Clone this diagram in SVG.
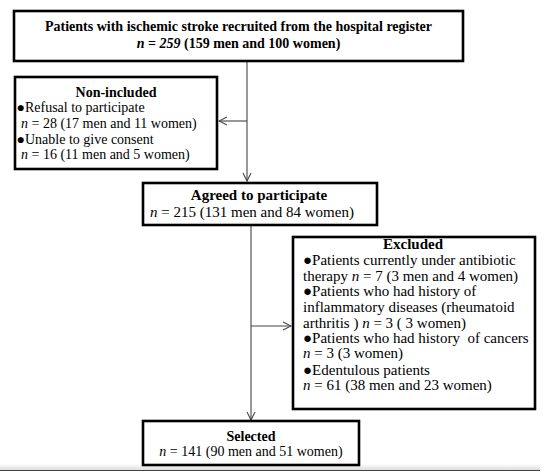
<svg xmlns="http://www.w3.org/2000/svg" width="550" height="476" viewBox="0 0 550 476">
<defs>
<style>
.box{fill:#fff;stroke:#000;stroke-width:2.6}
.t{font-family:"Liberation Serif","Times New Roman",serif;font-size:14px;fill:#000}
.l{font-size:15px}
.b{font-weight:bold}
.c{text-anchor:middle}
.conn{stroke:#444;stroke-width:1.1;fill:none}
</style>
<marker id="ah" markerWidth="10" markerHeight="10" refX="9" refY="5" orient="auto" markerUnits="userSpaceOnUse">
<path d="M1,1 L9,5 L1,9" fill="none" stroke="#444" stroke-width="1.1"/>
</marker>
<linearGradient id="sh" x1="0" y1="0" x2="0" y2="1">
<stop offset="0" stop-color="#fff"/>
<stop offset="1" stop-color="#ddd"/>
</linearGradient>
</defs>
<rect width="550" height="476" fill="#fff"/>
<rect x="0" y="464" width="540" height="6" fill="url(#sh)"/>
<line x1="0" y1="470.5" x2="540" y2="470.5" stroke="#444" stroke-width="1.2"/>
<g id="connectors">
<line class="conn" x1="247" y1="61" x2="247" y2="181" marker-end="url(#ah)"/>
<line class="conn" x1="247" y1="121" x2="219" y2="121" marker-end="url(#ah)"/>
<line class="conn" x1="251" y1="225" x2="251" y2="420" marker-end="url(#ah)"/>
<line class="conn" x1="251" y1="326" x2="291" y2="326" marker-end="url(#ah)"/>
</g>
<g id="recruited">
<rect class="box" x="14" y="11" width="449" height="50"/>
<text class="t b c" x="238.5" y="31">Patients with ischemic stroke recruited from the hospital register</text>
<text class="t b c" x="238.5" y="48"><tspan font-style="italic">n</tspan> = <tspan font-style="italic">259</tspan> (159 men and 100 women)</text>
</g>
<g id="nonincluded">
<rect class="box" x="15" y="77" width="202" height="92"/>
<text class="t b c" x="116" y="97">Non-included</text>
<text class="t" x="16.5" y="112">●Refusal to participate</text>
<text class="t" x="21" y="128"><tspan font-style="italic">n</tspan> = 28 (17 men and 11 women)</text>
<text class="t" x="16.5" y="144">●Unable to give consent</text>
<text class="t" x="21" y="159"><tspan font-style="italic">n</tspan> = 16 (11 men and 5 women)</text>
</g>
<g id="agreed">
<rect class="box" x="143" y="183" width="234" height="42"/>
<text class="t l b c" x="259" y="200">Agreed to participate</text>
<text class="t l c" x="252" y="217"><tspan font-style="italic">n</tspan> = 215 (131 men and 84 women)</text>
</g>
<g id="excluded">
<rect class="box" x="293" y="237" width="242" height="172"/>
<text class="t l b c" x="413" y="249">Excluded</text>
<text class="t l" x="303" y="265">●Patients currently under antibiotic</text>
<text class="t l" x="303" y="281">therapy <tspan font-style="italic">n</tspan> = 7 (3 men and 4 women)</text>
<text class="t l" x="303" y="296">●Patients who had history of</text>
<text class="t l" x="303" y="312">inflammatory diseases (rheumatoid</text>
<text class="t l" x="303" y="328">arthritis ) <tspan font-style="italic">n</tspan> = 3 ( 3 women)</text>
<text class="t l" x="303" y="343" xml:space="preserve">●Patients who had history  of cancers</text>
<text class="t l" x="303" y="358"><tspan font-style="italic">n</tspan> = 3 (3 women)</text>
<text class="t l" x="303" y="375">●Edentulous patients</text>
<text class="t l" x="303" y="390"><tspan font-style="italic">n</tspan> = 61 (38 men and 23 women)</text>
</g>
<g id="selected">
<rect class="box" x="143" y="421" width="216" height="44"/>
<text class="t b c" x="251" y="441">Selected</text>
<text class="t c" x="251" y="456"><tspan font-style="italic">n</tspan> = 141 (90 men and 51 women)</text>
</g>
</svg>
